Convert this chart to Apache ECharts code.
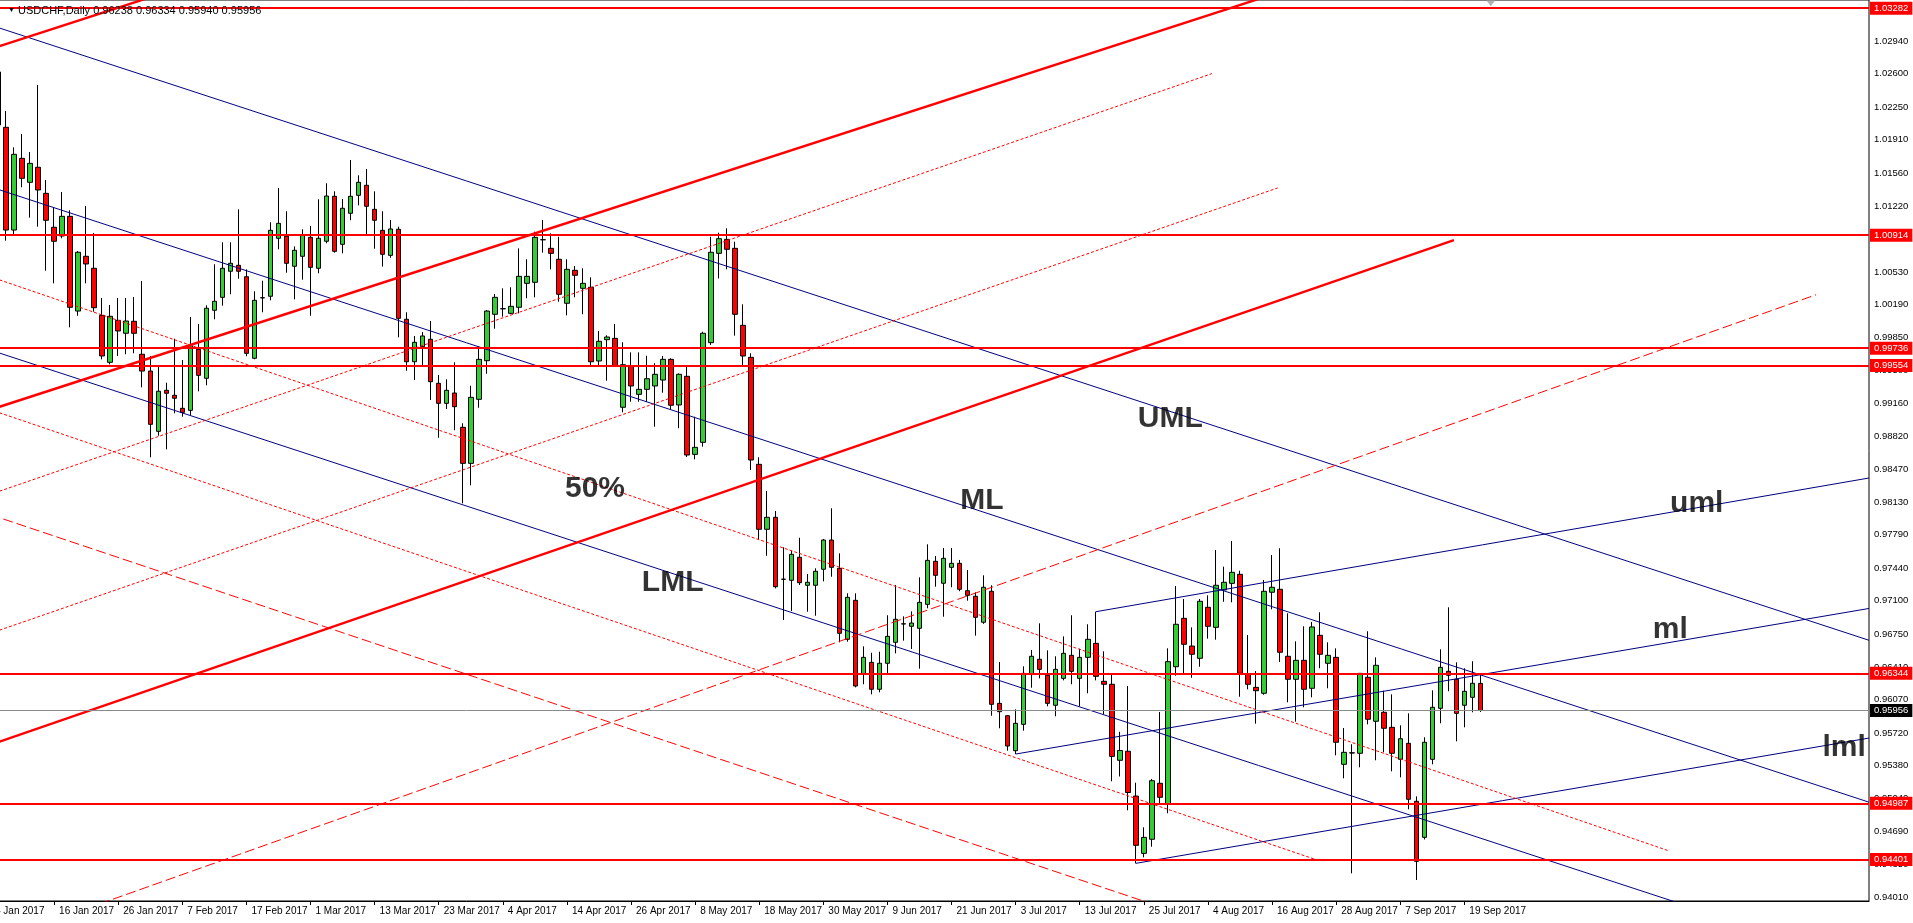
<!DOCTYPE html>
<html><head><meta charset="utf-8">
<script src="https://cdn.jsdelivr.net/npm/echarts@6/dist/echarts.min.js"></script>
<style>html,body{margin:0;padding:0;background:#fff;overflow:hidden}#c{width:1913px;height:923px}</style>
</head><body><div id="c"></div><script>
// ---- DATA ----
const firstDay = '2017-01-04';
const categoryCount = 235;
// rows: [open, high, low, close]
const ohlc = [
[1.0270,1.0290,1.0245,1.0265],[1.02617,1.02742,1.02033,1.02064],[1.02040,1.02210,1.00857,1.00968],[1.00968,1.01831,1.00924,1.01758],
[1.01716,1.01970,1.01414,1.01508],[1.01466,1.01782,1.01097,1.01664],[1.01623,1.02481,1.01003,1.01386],[1.01351,1.01490,1.00544,1.01070],
[1.00997,1.01201,1.00412,1.00851],[1.00906,1.01365,1.00882,1.01111],[1.01111,1.01174,0.99953,1.00162],[1.00123,1.00749,1.00074,1.00736],
[1.00694,1.01219,1.00412,1.00614],[1.00569,1.00937,1.00116,1.00158],[1.00078,1.00259,0.99619,0.99654],[0.99588,1.00186,0.99567,1.00068],
[1.00026,1.00259,0.99654,0.99915],[0.99891,1.00259,0.99672,1.00019],[1.00016,1.00269,0.99682,0.99891],[0.99672,1.00436,0.99327,0.99497],
[0.99497,0.99654,0.98597,0.98941],[0.98868,0.99560,0.98822,0.99286],[0.99296,0.99375,0.98680,0.99265],[0.99244,0.99834,0.99056,0.99213],
[0.99108,0.99612,0.99021,0.99066],[0.99087,1.00061,0.99038,0.99761],[0.99724,0.99988,0.99285,0.99452],[0.99421,1.00183,0.99348,1.00152],
[1.00131,1.00611,1.00037,1.00225],[1.00266,1.00840,1.00179,1.00569],[1.00538,1.00840,1.00298,1.00621],[1.00600,1.01184,1.00460,1.00538],
[1.00481,1.00558,0.99651,0.99682],[0.99630,1.00329,0.99620,1.00235],[1.00262,1.00439,1.00110,1.00260],[1.00277,1.01049,1.00235,1.00965],
[1.00882,1.01407,1.00767,1.01038],[1.00903,1.01164,1.00523,1.00621],[1.00590,1.00798,1.00245,1.00757],[1.00694,1.00976,1.00450,1.00913],
[1.00892,1.01010,1.00074,1.00579],[1.00569,1.01289,1.00517,1.00882],[1.00851,1.01456,1.00830,1.01323],[1.01320,1.01372,1.00732,1.00746],
[1.00819,1.01292,1.00725,1.01195],[1.01143,1.01699,1.01070,1.01320],[1.01330,1.01539,1.01226,1.01466],[1.01435,1.01605,1.00913,1.01216],
[1.01184,1.01372,1.00773,1.01070],[1.00965,1.01164,1.00586,1.00715],[1.00704,1.01073,1.00679,1.00979],[1.00976,1.01003,0.99849,1.00047],
[1.00037,1.00110,0.99500,0.99594],[0.99594,0.99863,0.99403,0.99797],[0.99751,0.99904,0.99553,0.99863],[0.99828,1.00019,0.99195,0.99386],
[0.99369,0.99456,0.98801,0.99160],[0.99160,0.99411,0.99101,0.99296],[0.99268,0.99588,0.98879,0.99125],[0.98910,0.98952,0.98117,0.98534],
[0.98534,0.99344,0.98305,0.99223],[0.99202,0.99755,0.99114,0.99619],[0.99605,1.00134,0.99469,1.00123],[1.00089,1.00301,0.99939,1.00266],
[1.00148,1.00360,1.00064,1.00146],[1.00099,1.00371,1.00090,1.00172],[1.00162,1.00777,1.00099,1.00485],[1.00412,1.00663,1.00256,1.00485],
[1.00423,1.00951,1.00266,1.00892],[1.00868,1.01073,1.00732,1.00866],[1.00777,1.00934,1.00558,1.00725],[1.00663,1.00898,1.00220,1.00298],
[1.00204,1.00663,1.00078,1.00558],[1.00548,1.00593,1.00266,1.00496],[1.00360,1.00569,1.00089,1.00412],[1.00371,1.00475,0.99546,0.99594],
[0.99602,0.99915,0.99553,0.99807],[0.99824,0.99870,0.99396,0.99852],[0.99838,0.99988,0.99540,0.99549],[0.99119,0.99797,0.99066,0.99563],
[0.99549,0.99692,0.99177,0.99341],[0.99254,0.99692,0.99177,0.99306],[0.99306,0.99657,0.99174,0.99417],[0.99341,0.99578,0.98916,0.99463],
[0.99403,0.99654,0.99271,0.99619],[0.99619,0.99630,0.99098,0.99140],[0.99143,0.99473,0.98900,0.99463],[0.99442,0.99553,0.98600,0.98621],
[0.98628,0.99021,0.98576,0.98701],[0.98753,0.99907,0.98708,0.99891],[0.99793,1.00898,0.99769,1.00736],[1.00725,1.00940,1.00464,1.00878],
[1.00871,1.00986,1.00558,1.00767],[1.00777,1.00846,0.99866,1.00089],[0.99974,1.00193,0.99560,0.99654],[0.99640,0.99682,0.98464,0.98569],
[0.98524,0.98597,0.97734,0.97846],[0.97846,0.98245,0.97570,0.97971],[0.97971,0.98037,0.97230,0.97247],[0.97326,0.97658,0.96900,0.97324],
[0.97314,0.97623,0.96993,0.97585],[0.97554,0.97758,0.97265,0.97289],[0.97262,0.97380,0.96986,0.97293],[0.97262,0.97439,0.96944,0.97408],
[0.97429,0.97745,0.97303,0.97734],[0.97734,0.98065,0.97351,0.97449],[0.97439,0.97595,0.96667,0.96761],[0.96698,0.97178,0.96673,0.97136],
[0.97105,0.97178,0.96197,0.96211],[0.96333,0.96625,0.96229,0.96510],[0.96458,0.96558,0.96124,0.96177],[0.96177,0.96569,0.96145,0.96448],
[0.96448,0.96949,0.96329,0.96729],[0.96667,0.97265,0.96552,0.96907],[0.96860,0.96938,0.96684,0.96858],[0.96834,0.96990,0.96597,0.96868],
[0.96813,0.97345,0.96392,0.97084],[0.97063,0.97689,0.97022,0.97522],[0.97512,0.97567,0.97247,0.97366],[0.97283,0.97651,0.96934,0.97543],
[0.97449,0.97651,0.97241,0.97491],[0.97491,0.97526,0.97200,0.97220],[0.97205,0.97421,0.97101,0.97157],[0.97147,0.97189,0.96736,0.96928],
[0.96876,0.97366,0.96860,0.97241],[0.97199,0.97262,0.95901,0.96020],[0.96030,0.96461,0.95770,0.95943],[0.95901,0.95908,0.95536,0.95585],
[0.95536,0.95968,0.95501,0.95822],[0.95811,0.96416,0.95745,0.96343],[0.96333,0.96587,0.96193,0.96521],[0.96490,0.96865,0.96291,0.96385],
[0.96323,0.96583,0.95999,0.96030],[0.96010,0.96521,0.95895,0.96385],[0.96291,0.96729,0.96270,0.96552],[0.96531,0.96949,0.96229,0.96364],
[0.96291,0.96600,0.95999,0.96510],[0.96510,0.96855,0.96135,0.96698],[0.96656,0.96986,0.96270,0.96312],[0.96260,0.96573,0.95916,0.96229],
[0.96229,0.96333,0.95217,0.95477],[0.95436,0.95734,0.95267,0.95538],[0.95530,0.96211,0.94914,0.95100],[0.95063,0.95202,0.94361,0.94549],
[0.94465,0.94737,0.94424,0.94632],[0.94612,0.95241,0.94534,0.95223],[0.95196,0.95940,0.94970,0.95050],[0.94980,0.96604,0.94883,0.96465],
[0.96412,0.97254,0.96318,0.96855],[0.96917,0.97119,0.96343,0.96646],[0.96628,0.96823,0.96297,0.96542],[0.96500,0.97119,0.96412,0.97095],
[0.97032,0.97157,0.96705,0.96834],[0.96823,0.97630,0.96694,0.97262],[0.97213,0.97456,0.97090,0.97293],[0.97282,0.97724,0.97084,0.97397],
[0.97376,0.97414,0.96099,0.96343],[0.96336,0.96743,0.96177,0.96229],[0.96197,0.96367,0.95818,0.96162],[0.96135,0.97317,0.96120,0.97199],
[0.97189,0.97578,0.97011,0.97241],[0.97220,0.97648,0.96461,0.96563],[0.96521,0.96969,0.96041,0.96281],[0.96281,0.96677,0.95839,0.96479],
[0.96479,0.96834,0.95989,0.96177],[0.96187,0.96879,0.96093,0.96827],[0.96740,0.96980,0.96396,0.96542],[0.96448,0.96667,0.96187,0.96531],
[0.96510,0.96604,0.95488,0.95624],[0.95394,0.95773,0.95248,0.95519],[0.95514,0.95603,0.94257,0.95512],[0.95509,0.96345,0.95363,0.96343],
[0.96302,0.96782,0.95811,0.95864],[0.95843,0.96510,0.95436,0.96427],[0.95937,0.96162,0.95519,0.95770],[0.95780,0.96124,0.95321,0.95509],
[0.95446,0.95801,0.95258,0.95661],[0.95613,0.95926,0.94925,0.95029],[0.95008,0.95060,0.94187,0.94382],[0.94632,0.95676,0.94610,0.95624],
[0.95446,0.96166,0.95394,0.95989],[0.95978,0.96594,0.95822,0.96406],[0.96364,0.97032,0.96156,0.96323],[0.96281,0.96458,0.95634,0.95926],
[0.96010,0.96396,0.95780,0.96156],[0.96093,0.96469,0.95937,0.96239],[0.96238,0.96334,0.95940,0.95956]
];
const yTicks = [0.94010,0.94350,0.94690,0.95040,0.95380,0.95720,0.96070,0.96410,0.96750,0.97100,0.97440,0.97790,0.98130,0.98470,
  0.98820,0.99160,0.99500,0.99850,1.00190,1.00530,1.00880,1.01220,1.01560,1.01910,1.02250,1.02600,1.02940];
const yMin = 0.93968, yMax = 1.03368;
const levels = [1.03282, 1.00914, 0.99736, 0.99554, 0.96344, 0.94987, 0.94401];
const lastPrice = 0.95956;
// chart-shift marker position: [barIndex, price]
const shiftMark = [187.3, 1.03335];
// trend lines: [[barIndex, price], [barIndex, price]]
const blueLines = [
  [[0,1.03108],[234.5,0.96688]], [[0,1.01420],[234.5,0.94999]], [[0,0.99717],[234.5,0.93296]],
  [[138,0.96986],[234.5,0.98381]], [[128,0.95501],[234.5,0.97020]], [[143,0.94361],[234.5,0.95668]]
];
const redThickLines = [
  [[0,1.02855],[26.2,1.03564]], [[0,0.99092],[163.5,1.03519]], [[0,0.95595],[182.7,1.00864]]
];
const redDottedLines = [
  [[0,0.98209],[152.5,1.02600]], [[0,0.96759],[160.7,1.01407]],
  [[0,1.00482],[209.5,0.94492]], [[0,0.99095],[165.4,0.94402]]
];
const redDashedLines = [
  [[13.7,0.93938],[227.9,1.00293]], [[0,0.98000],[146,0.93910]]
];
const textNotes = [
  ['UML',147.3,0.98997], ['ML',123.8,0.98141], ['50%',75.5,0.98266], ['LML',85.2,0.97286],
  ['uml',213.0,0.98110], ['ml',209.7,0.96795], ['lml',231.4,0.95564]
];
const titleText = 'USDCHF,Daily 0.96238 0.96334 0.95940 0.95956';

// ---- BUILD ----
const MONTHS = ['Jan','Feb','Mar','Apr','May','Jun','Jul','Aug','Sep','Oct','Nov','Dec'];
const categories = [];
{
  let d = new Date(firstDay + 'T00:00:00Z');
  while (categories.length < categoryCount) {
    const wd = d.getUTCDay();
    if (wd !== 0 && wd !== 6) categories.push(d.getUTCDate() + ' ' + MONTHS[d.getUTCMonth()] + ' ' + d.getUTCFullYear());
    d = new Date(d.getTime() + 86400000);
  }
}
const candleData = ohlc.map(r => [r[0], r[3], r[2], r[1]]);
const FONT = 'Liberation Sans';
const showDateAt = idx => idx % 8 === 0 && idx < ohlc.length;

function lineSeries(lines, style, z) {
  return lines.map(pts => ({
    type: 'line', xAxisIndex: 1, yAxisIndex: 0, data: pts, symbol: 'none', silent: true,
    animation: false, clip: true, z: z, lineStyle: style
  }));
}

const series = [
  {
    type: 'candlestick', xAxisIndex: 0, yAxisIndex: 0, data: candleData, barWidth: 5, z: 2, animation: false,
    itemStyle: { color: '#32cd32', color0: '#ff0000', borderColor: '#000', borderColor0: '#000', borderColorDoji: '#000', borderWidth: 1 },
    markLine: {
      symbol: 'none', silent: true, animation: false, precision: 5,
      data: levels.map(v => ({ yAxis: v, lineStyle: { color: '#ff0000', width: 2, type: 'solid' },
        label: { backgroundColor: '#ff0000' } }))
        .concat([{ yAxis: lastPrice, lineStyle: { color: '#8a8a8a', width: 1, type: 'solid' },
        label: { backgroundColor: '#000000' } }]),
      label: { show: true, position: 'end', distance: 1, formatter: p => Number(p.value).toFixed(5), color: '#fff',
        fontFamily: FONT, fontSize: 9.5, padding: [2, 4, 1, 4], lineHeight: 10 }
    }
  }
].concat(
  lineSeries(blueLines, { color: '#000080', width: 1, type: 'solid' }, 4),
  lineSeries(redThickLines, { color: '#ff0000', width: 2.4, type: 'solid' }, 4),
  lineSeries(redDottedLines, { color: '#ff0000', width: 1, type: [3, 2] }, 4),
  lineSeries(redDashedLines, { color: '#ff0000', width: 1, type: [10, 4] }, 4),
  [{
    type: 'scatter', xAxisIndex: 1, yAxisIndex: 0, silent: true, animation: false, symbolSize: 1, z: 6,
    itemStyle: { color: 'rgba(0,0,0,0)' },
    data: textNotes.map(t => ({ value: [t[1], t[2]], name: t[0] })),
    label: { show: true, position: 'inside', formatter: p => p.name, color: '#000', fontFamily: FONT,
      fontWeight: 'bold', fontSize: 30 }
  },
  {
    type: 'scatter', xAxisIndex: 1, yAxisIndex: 0, silent: true, animation: false, z: 7, clip: false,
    symbol: 'triangle', symbolRotate: 180, symbolSize: [9, 6],
    itemStyle: { color: '#a0a0a0' },
    data: [shiftMark]
  }]
);

const chart = echarts.init(document.getElementById('c'), null, { renderer: 'canvas' });
chart.setOption({
  animation: false,
  backgroundColor: '#ffffff',
  title: {
    text: '{a|▼} ' + titleText, left: 3, top: 0,
    textStyle: { fontFamily: FONT, fontSize: 11, fontWeight: 'normal', color: '#000',
      rich: { a: { fontSize: 7, color: '#000' } } }
  },
  grid: { left: -14, right: 44, top: 0, bottom: 22, show: true, borderColor: '#000', borderWidth: 1,
    backgroundColor: 'transparent', containLabel: false, outerBoundsMode: 'none' },
  xAxis: [
    {
      type: 'category', data: categories, boundaryGap: true, gridIndex: 0,
      axisLine: { show: true, lineStyle: { color: '#000', width: 1 } },
      axisTick: { show: true, interval: showDateAt, alignWithLabel: true, length: 4, lineStyle: { color: '#000' } },
      axisLabel: { interval: showDateAt, align: 'left', padding: [0, 0, 0, 5], margin: 5, color: '#000', fontFamily: FONT, fontSize: 10 },
      splitLine: { show: false }
    },
    { type: 'value', min: -0.5, max: categoryCount - 0.5, show: false, gridIndex: 0 }
  ],
  yAxis: [{
    type: 'value', position: 'right', min: yMin, max: yMax, gridIndex: 0,
    axisLine: { show: true, lineStyle: { color: '#000', width: 1 } },
    axisTick: { show: true, length: 3, customValues: yTicks, lineStyle: { color: '#000' } },
    axisLabel: { customValues: yTicks, formatter: v => v.toFixed(5), margin: 5, color: '#000', fontFamily: FONT, fontSize: 9.5 },
    splitLine: { show: false }
  }],
  series: series
});
</script></body></html>
